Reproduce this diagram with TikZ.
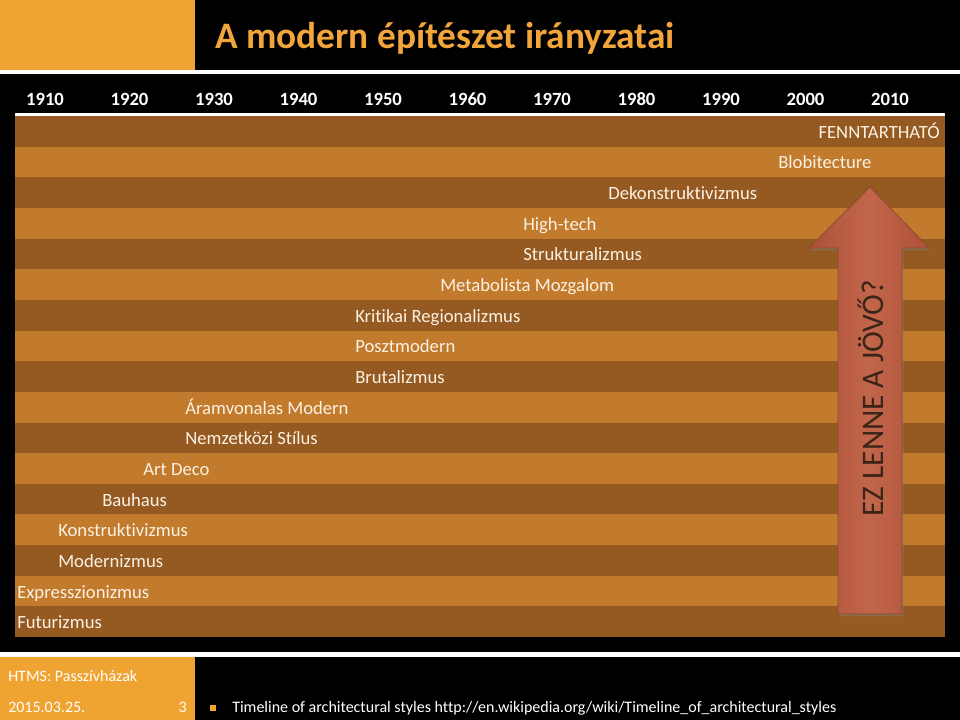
\documentclass[tikz,border=0pt]{standalone}
\usepackage{fontspec}
\setmainfont[Ligatures={NoCommon,NoRequired,NoContextual}]{Carlito}
\usetikzlibrary{shadows}
\definecolor{hdrorange}{HTML}{EFA432}
\definecolor{titleorange}{HTML}{F2A53A}
\definecolor{rowdark}{HTML}{955A22}
\definecolor{rowlight}{HTML}{C27A2D}
\definecolor{arrowred}{HTML}{AD5038}
\definecolor{arrowlight}{HTML}{C2664B}
\definecolor{arrowedge}{HTML}{8E4A30}
\definecolor{arrowtext}{HTML}{3A2418}
\definecolor{labeltext}{HTML}{FBF1E3}
\begin{document}
\begin{tikzpicture}[x=0.75pt,y=-0.75pt,
  lab/.style={anchor=base west,inner sep=0pt,text=labeltext,font=\fontsize{14}{16}\selectfont},
  yearlab/.style={anchor=base,inner sep=0pt,text=white,font=\fontsize{14}{16}\selectfont\bfseries},
  foot/.style={anchor=base west,inner sep=0pt,text=white,font=\fontsize{12}{14}\selectfont}]
\useasboundingbox (0,0) rectangle (960,720);
\fill[black] (0,0) rectangle (960,720);
% header
\fill[hdrorange] (0,0) rectangle (195,70);
\fill[white] (0,70) rectangle (960,74);
\node[anchor=base west,inner sep=0pt,text=titleorange,font=\fontsize{28}{32}\selectfont\bfseries] (title) at (215,49) {A modern építészet irányzatai};
% years
\foreach \yr [count=\k from 0] in {1910,1920,1930,1940,1950,1960,1970,1980,1990,2000,2010}
  \node[yearlab] (y\yr) at ({45+\k*84.5},106) {\yr};
% table
\fill[white] (15,113) rectangle (945,116);
\foreach \i in {0,...,16}{
  \pgfmathtruncatemacro\r{mod(\i,2)}
  \ifnum\r=0 \def\c{rowdark}\else\def\c{rowlight}\fi
  \fill[\c] (15,{116+\i*30.65}) rectangle (945,{116+(\i+1)*30.65});
}
% arrow
\path[draw=arrowedge,line width=0.6pt,left color=arrowred,right color=arrowred,middle color=arrowlight,
  drop shadow={opacity=0.45,shadow xshift=1.2pt,shadow yshift=-1.8pt}]
  (838,248) -- (809,248) -- (870,187) -- (929,248) -- (902,248) -- (902,614) -- (838,614) -- cycle;
\node[rotate=90,inner sep=0pt,text=arrowtext,font=\fontsize{23.5}{26}\selectfont] (future) at (871,398) {EZ LENNE A JÖVŐ?};
% labels
\node[lab,anchor=base east] (l1) at (940,138.3) {FENNTARTHATÓ};
\node[lab] (l2) at (778,169.0) {Blobitecture};
\node[lab] (l3) at (608,199.6) {Dekonstruktivizmus};
\node[lab] (l4) at (523,230.3) {High-tech};
\node[lab] (l5) at (523,260.9) {Strukturalizmus};
\node[lab] (l6) at (440,291.6) {Metabolista Mozgalom};
\node[lab] (l7) at (355,322.2) {Kritikai Regionalizmus};
\node[lab] (l8) at (355,352.9) {Posztmodern};
\node[lab] (l9) at (355,383.5) {Brutalizmus};
\node[lab] (l10) at (185,414.2) {Áramvonalas Modern};
\node[lab] (l11) at (185,444.8) {Nemzetközi Stílus};
\node[lab] (l12) at (143,475.5) {Art Deco};
\node[lab] (l13) at (102,506.1) {Bauhaus};
\node[lab] (l14) at (58,536.8) {Konstruktivizmus};
\node[lab] (l15) at (58,567.4) {Modernizmus};
\node[lab] (l16) at (17,598.1) {Expresszionizmus};
\node[lab] (l17) at (17,628.7) {Futurizmus};
% footer
\fill[white] (0,652) rectangle (960,657);
\fill[hdrorange] (0,657) rectangle (195,720);
\node[foot] (htms) at (8,681) {HTMS: Passzívházak};
\node[foot] (date) at (8,712) {2015.03.25.};
\node[foot,anchor=base east] (page) at (187,712) {3};
\fill[hdrorange] (210,705) rectangle (216,711);
\node[foot] (ref) at (232,712) {Timeline of architectural styles http://en.wikipedia.org/wiki/Timeline\_of\_architectural\_styles};
\end{tikzpicture}
\end{document}
